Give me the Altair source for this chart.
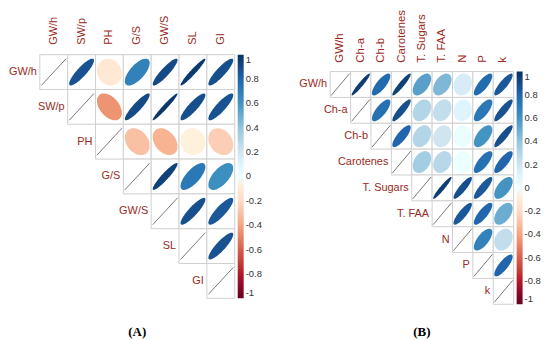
import altair as alt
import pandas as pd
import numpy as np

# ---------------- data ----------------
vars_a = ["GW/h", "SW/p", "PH", "G/S", "GW/S", "SL", "GI"]
# upper triangle, row by row (correlation of row variable with the following variables)
upper_a = [
    [0.87, -0.10, 0.68, 0.90, 0.96, 0.88],   # GW/h
    [-0.45, 0.90, 0.97, 0.88, 0.87],         # SW/p
    [-0.30, -0.35, -0.05, -0.25],            # PH
    [0.93, 0.72, 0.62],                      # G/S
    [0.88, 0.85],                            # GW/S
    [0.87],                                  # SL
]

vars_b = ["GW/h", "Ch-a", "Ch-b", "Carotenes", "T. Sugars", "T. FAA", "N", "P", "k"]
upper_b = [
    [0.95, 0.78, 0.93, 0.55, 0.45, 0.15, 0.78, 0.85],  # GW/h
    [0.75, 0.88, 0.30, 0.25, 0.10, 0.72, 0.87],        # Ch-a
    [0.80, 0.30, 0.20, 0.03, 0.60, 0.88],              # Ch-b
    [0.35, 0.28, 0.02, 0.75, 0.80],                    # Carotenes
    [0.95, 0.88, 0.85, 0.60],                          # T. Sugars
    [0.85, 0.80, 0.50],                                # T. FAA
    [0.68, 0.25],                                      # N
    [0.80],                                            # P
]

legend_values = [1, 0.8, 0.6, 0.4, 0.2, 0, -0.2, -0.4, -0.6, -0.8, -1]
ramp = ["#67001F", "#B2182B", "#D6604D", "#F4A582", "#FDDBC7", "#FFFFFF",
        "#D1E5F0", "#92C5DE", "#4393C3", "#2166AC", "#053061"]
ramp_domain = [-1, -0.8, -0.6, -0.4, -0.2, 0, 0.2, 0.4, 0.6, 0.8, 1]

RED = "#9A2A22"
FONT = "Liberation Sans"


def ellipse_path(r, w, h, n=60):
    # corrplot-style ellipse for correlation r, in symbol units
    a = np.arccos(np.clip(r, -1, 1))
    t = np.linspace(0, 2 * np.pi, n, endpoint=False)
    xs = np.cos(t + a / 2) * (w / h)
    ys = -np.cos(t - a / 2)
    return "M " + " L ".join(f"{x:.4f} {y:.4f}" for x, y in zip(xs, ys)) + " Z"


def panel(vars_, upper, cw, ch, ew, eh, top, col_fs, col_pad, caption, cap_offset):
    n = len(vars_)
    recs = []
    for i in range(n):
        for j in range(i, n):
            diag = i == j
            r = 1.0 if diag else upper[i][j - i - 1]
            recs.append(dict(row=vars_[i], col=vars_[j], r=r, diag=diag,
                             first=(i == 0),
                             path=ellipse_path(r, ew, eh),
                             dpath=f"M {-ew / eh:.4f} 1 L {ew / eh:.4f} -1"))
    df = pd.DataFrame(recs)
    W, H = cw * n, ch * n
    x = alt.X("col:N", sort=vars_,
              scale=alt.Scale(domain=vars_, paddingInner=0, paddingOuter=0),
              axis=None)
    y = alt.Y("row:N", sort=vars_,
              scale=alt.Scale(domain=vars_, range=[top, top + H],
                              paddingInner=0, paddingOuter=0),
              axis=None)
    base = alt.Chart(df).encode(x=x, y=y)
    cells = base.mark_rect(fill="white", stroke="#d0d0d0", strokeWidth=1)
    ell = base.transform_filter("!datum.diag").mark_point(
        filled=True, opacity=1, strokeWidth=0).encode(
        shape=alt.Shape("path:N", scale=None),
        size=alt.value(eh * eh),
        color=alt.Color("r:Q", scale=alt.Scale(domain=ramp_domain, range=ramp),
                        legend=alt.Legend(title=None, values=legend_values,
                                          orient="none", direction="vertical",
                                          legendX=W + 3, legendY=top,
                                          gradientLength=H, gradientThickness=6,
                                          labelFontSize=9.5, labelColor="#333",
                                          labelFont=FONT, labelOverlap=False,
                                          labelOffset=2,
                                          labelExpr="replace(format(datum.value, '.1~f'), '\u2212', '-')",
                                          gradientStrokeWidth=0)))
    diag = base.transform_filter("datum.diag").mark_point(
        filled=False, stroke="#555555", strokeWidth=0.8, opacity=1).encode(
        shape=alt.Shape("dpath:N", scale=None), size=alt.value(eh * eh))
    row_labels = base.transform_filter("datum.diag").mark_text(
        align="right", baseline="middle", dx=-(cw / 2 + 3), font=FONT,
        fontSize=11, color=RED).encode(text="row:N")
    col_labels = base.transform_filter("datum.first").mark_text(
        align="left", baseline="middle", angle=270, dx=ch / 2 + col_pad, font=FONT,
        fontSize=col_fs, color=RED).encode(text="col:N")
    return alt.layer(cells, ell, diag, row_labels, col_labels).properties(
        width=W, height=top + H,
        title=alt.TitleParams(caption, orient="bottom", anchor="middle", frame="group",
                              font="Liberation Serif", fontWeight="bold",
                              fontSize=13, color="#000", offset=cap_offset))


pa = panel(vars_a, upper_a, 28, 35, 25, 27, 0, 11, 10, "(A)", 27)
pb = panel(vars_b, upper_b, 20.5, 26, 18.5, 22, 17, 11.5, 9, "(B)", 21)

chart = alt.hconcat(pa, pb, spacing=36).resolve_legend(color="independent").properties(
    padding={"left": 0, "top": 0, "right": 0, "bottom": 0}
).configure_view(stroke=None)

chart.save("out.html", embed_options={"renderer": "svg", "actions": False})
